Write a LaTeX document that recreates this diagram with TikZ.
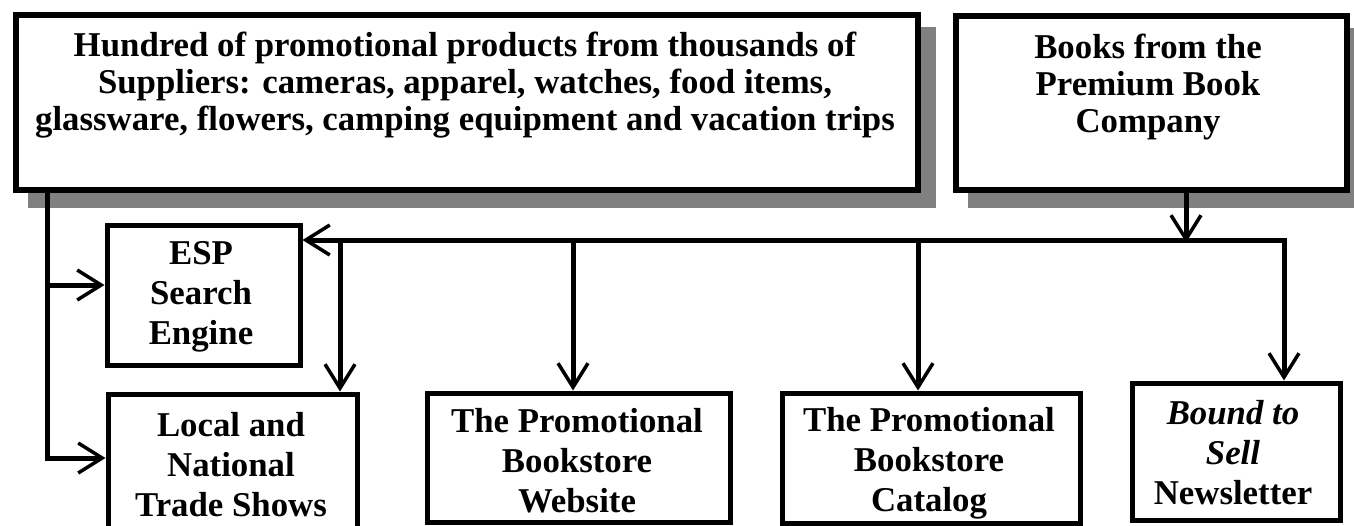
\documentclass[tikz,border=0pt]{standalone}
\usepackage{fontspec}
\setmainfont{Liberation Serif}
\usetikzlibrary{arrows.meta,positioning}
\tikzset{
  topbox/.style={draw=black, line width=6pt, fill=white, inner sep=0pt},
  lowbox/.style={draw=black, line width=5pt, fill=white, inner sep=0pt},
  shadowbox/.style={fill=black!50, draw=none, inner sep=0pt},
  txt/.style={align=center, font=\bfseries\fontsize{34.8}{37}\selectfont, inner sep=0pt},
  ltxt/.style={align=center, font=\bfseries\fontsize{34.8}{40}\selectfont, inner sep=0pt},
  conn/.style={draw=black, line width=5pt},
  arr/.style={conn, -{Straight Barb[length=24pt, width=30pt, line width=3.5pt]}},
}
\begin{document}
\begin{tikzpicture}[x=1pt,y=-1pt]
\clip (0,0) rectangle (1354,525);
\fill[white] (0,0) rectangle (1354,525);
% shadows
\node[shadowbox, minimum width=908pt, minimum height=181pt, anchor=north west] (supshadow) at (28,27) {};
\node[shadowbox, minimum width=397pt, minimum height=180pt, anchor=north west] (bookshadow) at (968,28) {};
% top boxes
\node[topbox, minimum width=902pt, minimum height=175pt, anchor=north west] (sup) at (13,12) {};
\node[txt, anchor=center] (suptext) at (465,85) {Hundred of promotional products from thousands of\\Suppliers: cameras, apparel, watches, food items,\\glassware, flowers, camping equipment and vacation trips};
\node[topbox, minimum width=391pt, minimum height=174pt, anchor=north west] (books) at (953,13) {};
\node[txt, anchor=center] (bookstext) at (1148,87) {Books from the\\Premium Book\\Company};
% lower boxes
\node[lowbox, minimum width=193pt, minimum height=140pt, anchor=north west] (esp) at (104.5,222.5) {};
\node[ltxt] (esptext) at (201,297) {ESP\\Search\\Engine};
\node[lowbox, minimum width=249pt, minimum height=150pt, anchor=north west] (local) at (105.5,391.5) {};
\node[ltxt] (localtext) at (231,465) {Local and\\National\\Trade Shows};
\node[lowbox, minimum width=303pt, minimum height=129pt, anchor=north west] (web) at (424.5,390.5) {};
\node[ltxt] (webtext) at (577,461) {The Promotional\\Bookstore\\Website};
\node[lowbox, minimum width=298pt, minimum height=130pt, anchor=north west] (cat) at (779.5,390.5) {};
\node[ltxt] (cattext) at (929,463) {The Promotional\\Bookstore\\Catalog};
\node[lowbox, minimum width=208pt, minimum height=137pt, anchor=north west] (news) at (1129.5,380.5) {};
\node[ltxt] (newstext) at (1233,453) {{\itshape Bound to}\\{\itshape Sell}\\Newsletter};
% junction coordinates
\coordinate (hb) at (1186,240);
\coordinate (hr) at (1284,240);
\coordinate (hl) at (340,240);
\coordinate (hw) at (573,240);
\coordinate (hc) at (918,240);
\coordinate (vt) at (47,190);
\coordinate (v1) at (47,285);
\coordinate (v2) at (47,458);
% connectors
\draw[arr] (books.south -| hb) -- ([yshift=-2.5pt]hb);
\draw[conn] ([xshift=2.5pt]hr) -- (hl);
\draw[arr] (hl) -- (esp.east |- hl);
\draw[arr] (hl) -- (local.north -| hl);
\draw[arr] (hw) -- (web.north -| hw);
\draw[arr] (hc) -- (cat.north -| hc);
\draw[arr] ([yshift=-2.5pt]hr) -- (news.north -| hr);
\draw[conn] (vt) -- ([yshift=2.5pt]v2);
\draw[arr] ([xshift=-2.5pt]v1) -- (esp.west |- v1);
\draw[arr] ([xshift=-2.5pt]v2) -- (local.west |- v2);
\end{tikzpicture}
\end{document}
